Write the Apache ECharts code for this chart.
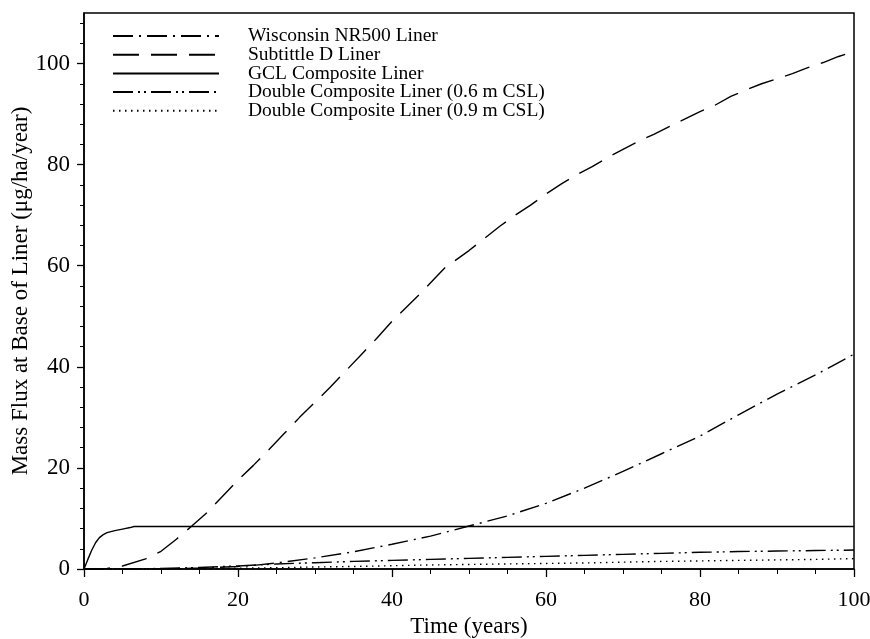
<!DOCTYPE html>
<html>
<head>
<meta charset="utf-8">
<script src="https://cdn.jsdelivr.net/npm/echarts@6/dist/echarts.min.js"></script>
<style>
  html, body { margin: 0; padding: 0; background: #fff; }
  #chart { width: 870px; height: 639px; }
</style>
</head>
<body>
<div id="chart"></div>
<script>
// --- data (time in years, mass flux in ug/ha/year) ---
var wisconsin = [[0,0],[10,0],[15,0.2],[20,0.5],[22,0.7],[25,1.2],[30,2.2],[35,3.4],[40,4.9],[45,6.5],
  [50,8.5],[55,10.5],[60,13],[65,16],[70,19.3],[75,22.8],[80,26.3],[85,30.5],[90,34.6],[95,38.4],[100,42.5]];

var subtitleD = [[0,0],[3,0.1],[5,0.6],[8,2],[10,3.5],[12,5.9],[14,8.5],[16,11.2],[18,14.4],[20,17.6],
  [22,20.5],[24,23.6],[26,26.8],[28,30],[30,33],[32,36],[34,39.2],[36,42.4],[38,45.6],[40,49],
  [42,52],[44,55],[46,58.2],[47,59.8],[48,60.8],[50,63],[52,65.4],[54,67.8],[56,70],[58,72],
  [60,74.2],[62,76.2],[64,78],[66,79.6],[68,81.4],[70,83],[72,84.6],[74,86],[76,87.5],[78,89],
  [80,90.5],[82,91.8],[84,93.5],[86,94.8],[88,96],[90,97],[92,98],[94,99.2],[96,100.2],[98,101.4],[100,102.4]];

var gcl = [[0,0],[0.5,1.9],[1,3.7],[1.5,5.2],[2,6.2],[2.5,6.8],[3,7.2],[4,7.6],[5,7.9],[6,8.2],[6.5,8.4],[100,8.4]];

var double06 = [[0,0],[5,0.02],[10,0.1],[15,0.3],[20,0.6],[25,1.0],[30,1.25],[35,1.5],[40,1.7],[45,1.9],
  [50,2.1],[55,2.3],[60,2.5],[65,2.7],[70,2.9],[75,3.1],[80,3.3],[85,3.45],[90,3.55],[95,3.65],[100,3.75]];

var double09 = [[0,0],[10,0.02],[15,0.08],[20,0.15],[25,0.25],[30,0.4],[35,0.5],[40,0.65],[45,0.8],[50,0.9],
  [55,1.0],[60,1.1],[65,1.2],[70,1.35],[75,1.5],[80,1.6],[85,1.7],[90,1.8],[95,1.9],[100,2.05]];

var seriesNames = ['Wisconsin NR500 Liner', 'Subtittle D Liner', 'GCL Composite Liner',
  'Double Composite Liner (0.6 m CSL)', 'Double Composite Liner (0.9 m CSL)'];

var yMajorTicks = [0, 20, 40, 60, 80, 100];
var yMinorTicks = [4, 8, 12, 16, 24, 28, 32, 36, 44, 48, 52, 56, 64, 68, 72, 76, 84, 88, 92, 96, 104, 108];

var FONT = 'Liberation Serif';

function lineSeries(name, data, dash) {
  return {
    name: name,
    type: 'line',
    data: data,
    symbol: 'none',
    animation: false,
    lineStyle: { color: '#000', width: 1.4, type: dash }
  };
}

var chart = echarts.init(document.getElementById('chart'));

var option = {
  backgroundColor: '#fff',
  animation: false,
  grid: {
    left: 84, right: 16, top: 13, bottom: 70,
    containLabel: false, outerBoundsMode: 'none',
    show: true, borderColor: '#000', borderWidth: 1.5
  },
  legend: {
    orient: 'vertical',
    left: 112, top: 26,
    padding: 0,
    itemWidth: 106, itemHeight: 12, itemGap: -1.3,
    itemStyle: { opacity: 0 },
    data: seriesNames,
    textStyle: { fontFamily: FONT, fontSize: 19.5, color: '#000', lineHeight: 17.5, padding: [0, 0, 0, 24] }
  },
  xAxis: {
    type: 'value',
    min: 0, max: 100, interval: 20,
    name: 'Time (years)',
    nameLocation: 'middle',
    nameGap: 46,
    nameMoveOverlap: false,
    nameTextStyle: { fontFamily: FONT, fontSize: 23, color: '#000' },
    axisLine: { lineStyle: { color: '#000', width: 1.5 } },
    axisTick: { length: 8, lineStyle: { color: '#000', width: 1.3 } },
    minorTick: { show: true, splitNumber: 4, length: 5, lineStyle: { color: '#000', width: 1 } },
    splitLine: { show: false },
    axisLabel: { fontFamily: FONT, fontSize: 22, color: '#000', margin: 20 }
  },
  yAxis: [{
    type: 'value',
    min: 0, max: 110,
    name: 'Mass Flux at Base of Liner (\u03bcg/ha/year)',
    nameLocation: 'middle',
    nameGap: 52,
    nameMoveOverlap: false,
    nameTextStyle: { fontFamily: FONT, fontSize: 23, color: '#000' },
    axisLine: { lineStyle: { color: '#000', width: 1.5 } },
    axisTick: { length: 7, customValues: yMajorTicks, lineStyle: { color: '#000', width: 1.3 } },
    splitLine: { show: false },
    axisLabel: { fontFamily: FONT, fontSize: 23, color: '#000', margin: 14, customValues: yMajorTicks }
  }, {
    type: 'value',
    min: 0, max: 110,
    position: 'left',
    axisLine: { show: false },
    axisTick: { length: 4, customValues: yMinorTicks, lineStyle: { color: '#000', width: 1 } },
    splitLine: { show: false },
    axisLabel: { show: false }
  }],
  series: [
    lineSeries(seriesNames[0], wisconsin, [20, 6, 2, 6]),
    lineSeries(seriesNames[1], subtitleD, [26, 12]),
    lineSeries(seriesNames[2], gcl, 'solid'),
    lineSeries(seriesNames[3], double06, [20, 5, 2, 4, 2, 5]),
    lineSeries(seriesNames[4], double09, [1.5, 4.5])
  ]
};

chart.setOption(option);
</script>
</body>
</html>
